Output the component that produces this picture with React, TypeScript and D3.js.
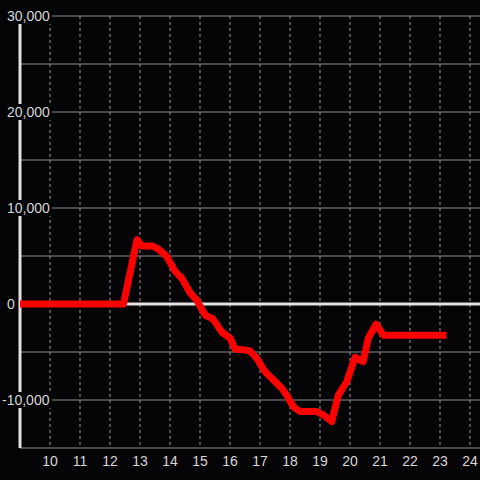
import React from "react";
import * as d3 from "d3";

const hours = [9.0, 12.45, 12.9, 13.07, 13.4, 13.6, 13.89, 14.17, 14.39, 14.67, 14.89, 15.17, 15.43, 15.72, 16.0, 16.17, 16.5, 16.67, 16.89, 17.17, 17.44, 17.72, 17.89, 18.11, 18.33, 18.89, 19.11, 19.39, 19.61, 19.89, 20.17, 20.44, 20.61, 20.87, 21.11, 23.22];
const values = [0, 0, 6700, 6050, 6050, 5750, 4950, 3400, 2700, 1150, 400, -1150, -1550, -2900, -3550, -4700, -4800, -4900, -5650, -7050, -7900, -8750, -9500, -10700, -11200, -11200, -11550, -12250, -9500, -8100, -5550, -6000, -3550, -2100, -3250, -3250];
const xTicks = [10, 11, 12, 13, 14, 15, 16, 17, 18, 19, 20, 21, 22, 23, 24];
const yLabelTicks = [30000, 20000, 10000, 0, -10000];
const yGridTicks = [30000, 25000, 20000, 15000, 10000, 5000, -5000, -10000];

export default function App() {
  const W = 480, H = 480;
  const x = d3.scaleLinear().domain([9, 24.333]).range([20, 480]);
  const y = d3.scaleLinear().domain([-15000, 30000]).range([448, 16]);
  const data = hours.map((h, i) => [h, values[i]] as [number, number]);
  const line = d3.line<[number, number]>().x(d => x(d[0])).y(d => y(d[1]));
  const fmt = d3.format(",");
  const font = "'Liberation Sans', Arial, sans-serif";
  return (
    <svg width={W} height={H} style={{ position: "absolute", left: 0, top: 0, background: "#040306" }}>
      <rect x={0} y={0} width={W} height={H} fill="#040306" />
      {xTicks.map(t => (
        <line key={"vx" + t} x1={x(t)} x2={x(t)} y1={y(30000)} y2={y(-15000)} stroke="#9a9a9a" strokeWidth={1} strokeDasharray="3,3" />
      ))}
      {yGridTicks.map(t => (
        <line key={"gy" + t} x1={20} x2={W} y1={y(t)} y2={y(t)} stroke="#8a8d88" strokeWidth={1} />
      ))}
      <line x1={20} x2={W} y1={y(-15000)} y2={y(-15000)} stroke="#8a8d88" strokeWidth={1} />
      <line x1={20} x2={W} y1={y(0)} y2={y(0)} stroke="#e2e2e2" strokeWidth={3} />
      <line x1={20} x2={20} y1={y(30000)} y2={y(-15000)} stroke="#e2e2e2" strokeWidth={3} />
      {yLabelTicks.map(t => {
        const label = fmt(t).replace("−", "-");
        const lx = t < 0 ? 2 : 7;
        return (
          <g key={"yl" + t}>
            {t !== 0 && <rect x={lx - 1} y={y(t) - 8} width={t < 0 ? 51 : 46} height={16} fill="#040306" />}
            <text x={lx} y={y(t)} dy="0.35em" fill="#d6d6d6" fontSize={14} fontFamily={font}>{label}</text>
          </g>
        );
      })}
      {xTicks.map(t => (
        <text key={"xl" + t} x={x(t)} y={461} dy="0.35em" textAnchor="middle" fill="#d6d6d6" fontSize={14} fontFamily={font}>{t}</text>
      ))}
      <path d={line(data) || ""} fill="none" stroke="#ff0000" strokeWidth={7} strokeLinejoin="round" strokeLinecap="butt" />
    </svg>
  );
}
